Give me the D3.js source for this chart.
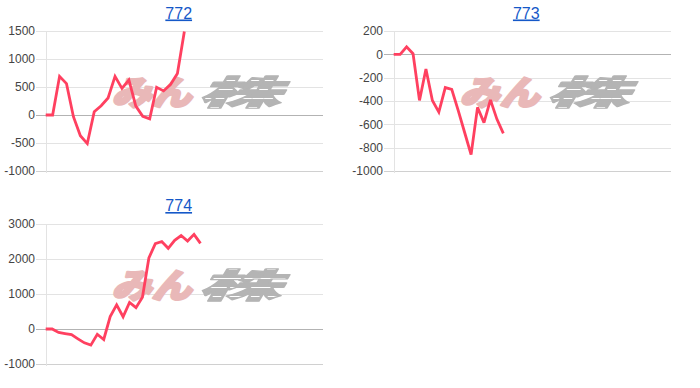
<!DOCTYPE html>
<html><head><meta charset="utf-8">
<script src="https://cdn.jsdelivr.net/npm/d3@7"></script>
<style>
html,body{margin:0;padding:0;background:#fff;}
svg{display:block;}
</style></head>
<body>
<svg id="c" width="700" height="388"></svg>
<script>
// ---- data ----
const titles = ["772", "773", "774"];
const s772 = [0,0,690,560,-30,-370,-510,60,165,305,690,475,625,160,-25,-70,495,430,545,740,1490];
const s773 = [0,0,65,5,-395,-125,-395,-495,-285,-300,-480,-670,-860,-455,-585,-390,-555,-678];
const s774 = [0,0,-100,-130,-160,-280,-395,-460,-150,-300,355,690,350,760,610,905,2030,2440,2500,2305,2535,2670,2515,2705,2445];
const ticks772 = [-1000,-500,0,500,1000,1500];
const ticks773 = [-1000,-800,-600,-400,-200,0,200];
const ticks774 = [-1000,0,1000,2000,3000];
const xSlots = [40, 43, 43];

// ---- layout ----
const layout = [
  {left:36, right:323, top:31, bottom:171, x0:45.7, tx:178.7, ty:18.5},
  {left:384, right:671, top:31, bottom:171, x0:393.7, tx:526.3, ty:18.5},
  {left:36, right:323, top:224, bottom:364, x0:45.7, tx:178.7, ty:211}
];
const series = [s772, s773, s774];
const tickSets = [ticks772, ticks773, ticks774];

const svg = d3.select("#c");
const font = "Arial, 'Liberation Sans', sans-serif";

const defs = svg.append("defs");
const pat = defs.append("pattern").attr("id", "stripes").attr("patternUnits", "userSpaceOnUse")
  .attr("width", 10).attr("height", 9);
pat.append("rect").attr("width", 10).attr("height", 9).attr("fill", "#b4b4b4");
pat.append("rect").attr("y", 8).attr("width", 10).attr("height", 1).attr("fill", "#ffffff");

series.forEach((data, k) => {
  const L = layout[k];
  const ticks = tickSets[k];
  const g = svg.append("g");
  const y = d3.scaleLinear().domain([ticks[0], ticks[ticks.length-1]]).range([L.bottom, L.top]);
  const x = d3.scaleLinear().domain([0, xSlots[k]]).range([L.x0, L.right]);

  // gridlines
  g.selectAll("line.grid").data(ticks).join("line")
    .attr("x1", L.left).attr("x2", L.right)
    .attr("y1", d => Math.round(y(d)) + 0.5).attr("y2", d => Math.round(y(d)) + 0.5)
    .attr("stroke", d => d === 0 ? "#b3b3b3" : (d === ticks[0] ? "#d0d0d0" : "#e3e3e3"))
    .attr("stroke-width", 1);
  // left vertical line
  g.append("line")
    .attr("x1", Math.round(L.x0) + 0.5).attr("x2", Math.round(L.x0) + 0.5)
    .attr("y1", L.top).attr("y2", L.bottom + 2)
    .attr("stroke", "#e3e3e3");

  // y labels
  const yAxis = d3.axisLeft(y).tickValues(ticks).tickSize(0).tickPadding(0).tickFormat(d3.format("d"));
  const ax = g.append("g").attr("transform", `translate(${L.left - 1},0)`).call(yAxis);
  ax.select(".domain").remove();
  ax.selectAll("text").attr("fill", "#444").attr("font-family", font).attr("font-size", "12px")
    .text(d => String(d));

  // watermark
  const cx = (L.left + L.right) / 2 + 16;
  const cy = (L.top + L.bottom) / 2 - 9;
  const wm = g.append("g");
  wm.append("text").attr("x", cx - 84).attr("y", cy + 13)
    .attr("textLength", 80).attr("lengthAdjust", "spacingAndGlyphs")
    .attr("font-family", "'Noto Sans CJK JP', sans-serif").attr("font-weight", 900)
    .attr("font-style", "italic").attr("font-size", "34px")
    .attr("fill", "#e9b8b8").attr("stroke", "#e9b8b8").attr("stroke-width", 2.2)
    .attr("stroke-linejoin", "round").text("みん");
  wm.append("text").attr("x", cx + 2).attr("y", cy + 13)
    .attr("textLength", 82).attr("lengthAdjust", "spacingAndGlyphs")
    .attr("font-family", "'Noto Sans CJK JP', sans-serif").attr("font-weight", 900)
    .attr("font-style", "italic").attr("font-size", "34px")
    .attr("fill", "url(#stripes)").attr("stroke", "#b4b4b4").attr("stroke-width", 1.2)
    .attr("stroke-linejoin", "round").text("株");

  // line
  const line = d3.line().x((d, i) => x(i)).y(d => y(d));
  g.append("path").datum(data).attr("d", line)
    .attr("fill", "none").attr("stroke", "#ff4060").attr("stroke-width", 2.8)
    .attr("stroke-linejoin", "miter").attr("stroke-miterlimit", 3);

  // title
  g.append("text").attr("x", L.tx).attr("y", L.ty).attr("text-anchor", "middle")
    .attr("font-family", font).attr("font-size", "16px").attr("fill", "#1558c8")
    .attr("text-decoration", "underline").text(titles[k]);
});
</script>
</body></html>
